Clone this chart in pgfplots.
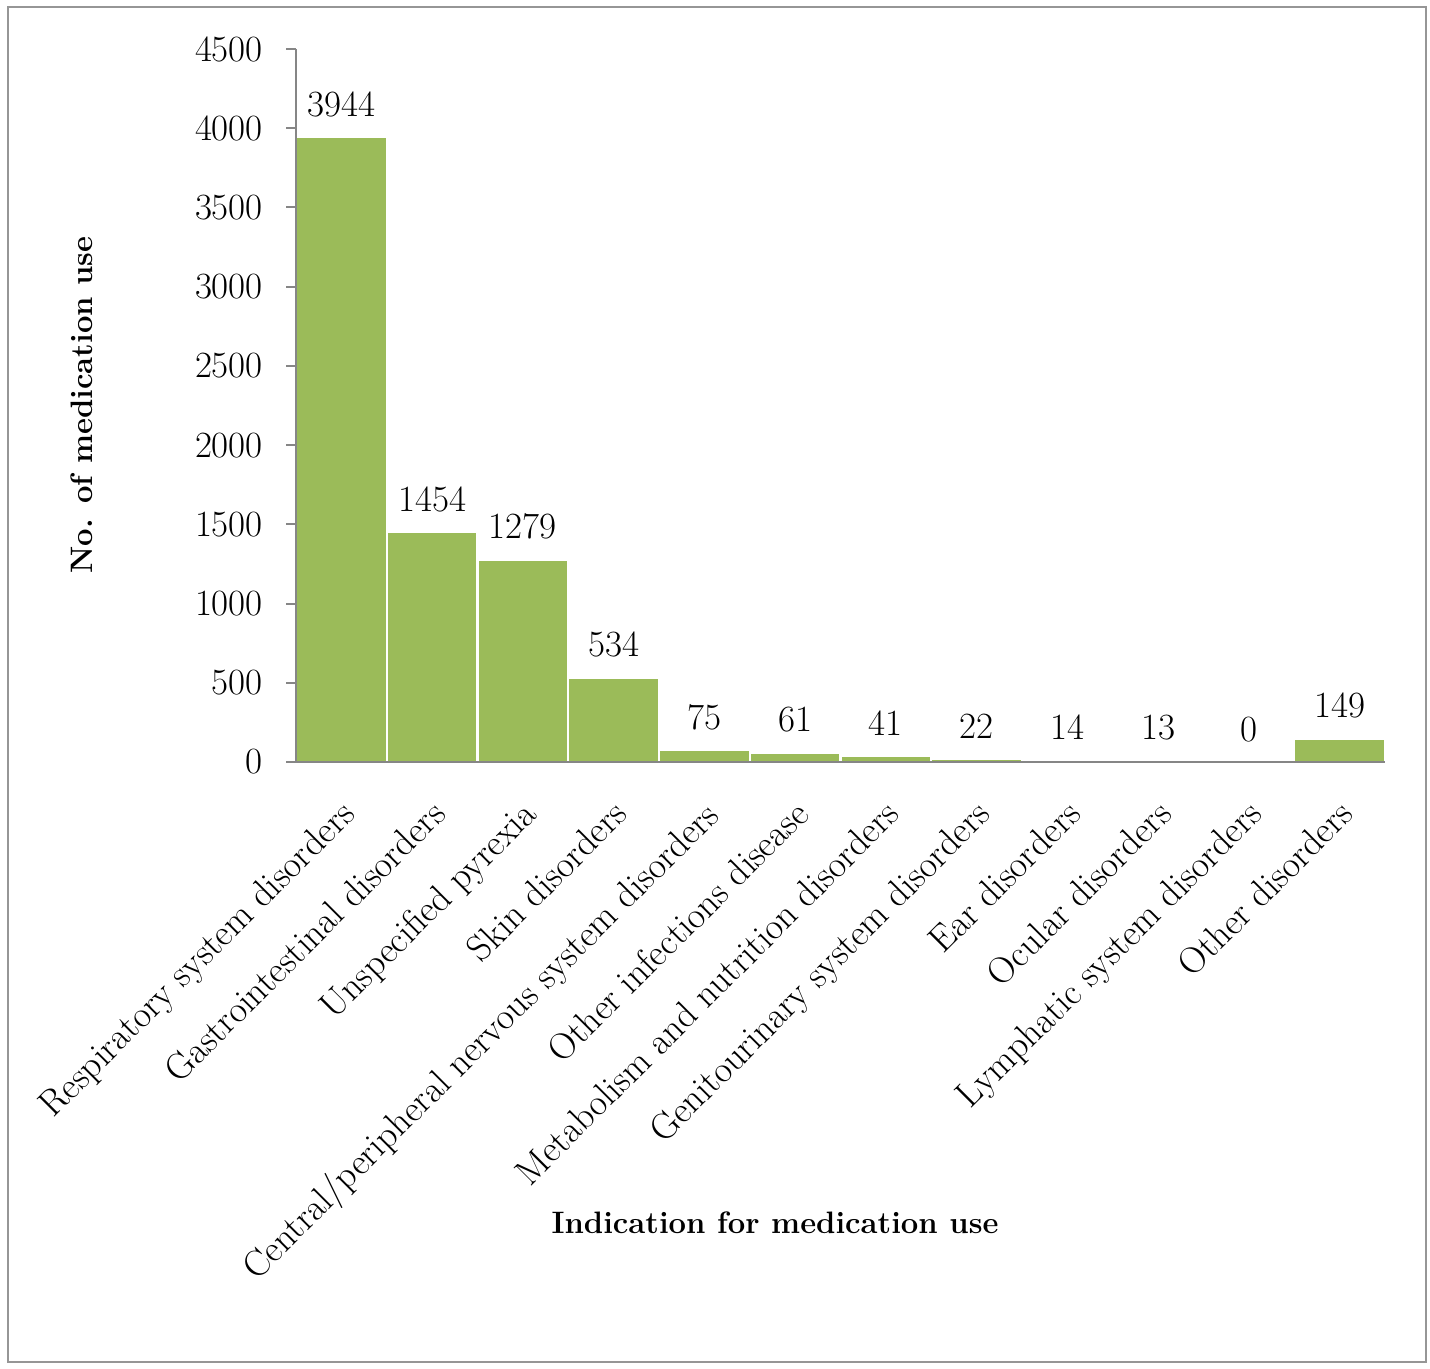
\documentclass[border=0pt]{standalone}
\usepackage{pgfplots}
\pgfplotsset{compat=1.18}
\definecolor{bargreen}{RGB}{155,187,89}
\definecolor{axisgray}{RGB}{134,134,134}
\definecolor{framegray}{RGB}{150,150,150}
\begin{document}
\begin{tikzpicture}[font=\fontsize{18.5}{22}\selectfont]
\path[use as bounding box] (0,0) rectangle (715pt,684.5pt);
\draw[framegray, line width=0.8pt] (4pt,3.5pt) rectangle (713pt,681pt);
\begin{axis}[
  at={(148pt,303.5pt)}, anchor=south west,
  scale only axis, width=544.5pt, height=356.5pt,
  xmin=-0.5, xmax=11.5, ymin=0, ymax=4500,
  axis x line=bottom, axis y line=left,
  axis on top,
  axis line style={axisgray, line width=1.2pt, -},
  ytick={0,500,...,4500},
  ytick style={axisgray, line width=1pt},
  tick align=outside, major tick length=5pt,
  xtick=data, xtick style={draw=none},
  xticklabels={Respiratory system disorders, Gastrointestinal disorders, Unspecified pyrexia, Skin disorders, Central/peripheral nervous system disorders, Other infections disease, Metabolism and nutrition disorders, Genitourinary system disorders, Ear disorders, Ocular disorders, Lymphatic system disorders, Other disorders},
  xticklabel style={rotate=45, anchor=north east, inner sep=1pt, xshift=-9pt, yshift=-7pt},
  yticklabel style={xshift=-8pt},
  /pgf/number format/assume math mode=true,
  /pgf/number format/1000 sep={},
  ybar, bar width=1, bar shift=0pt,
  nodes near coords,
  every node near coord/.append style={yshift=6pt, text=black},
  clip=false,
]
\addplot[fill=bargreen, draw=white, line width=1.2pt] coordinates {
(0,3944) (1,1454) (2,1279) (3,534) (4,75) (5,61) (6,41) (7,22) (8,14) (9,13) (10,0) (11,149)};
\end{axis}
\node[rotate=90, font=\fontsize{15.5}{18}\selectfont\bfseries] at (41pt,482pt) {No. of medication use};
\node[font=\fontsize{15.5}{18}\selectfont\bfseries] at (387.5pt,73pt) {Indication for medication use};
\end{tikzpicture}
\end{document}
